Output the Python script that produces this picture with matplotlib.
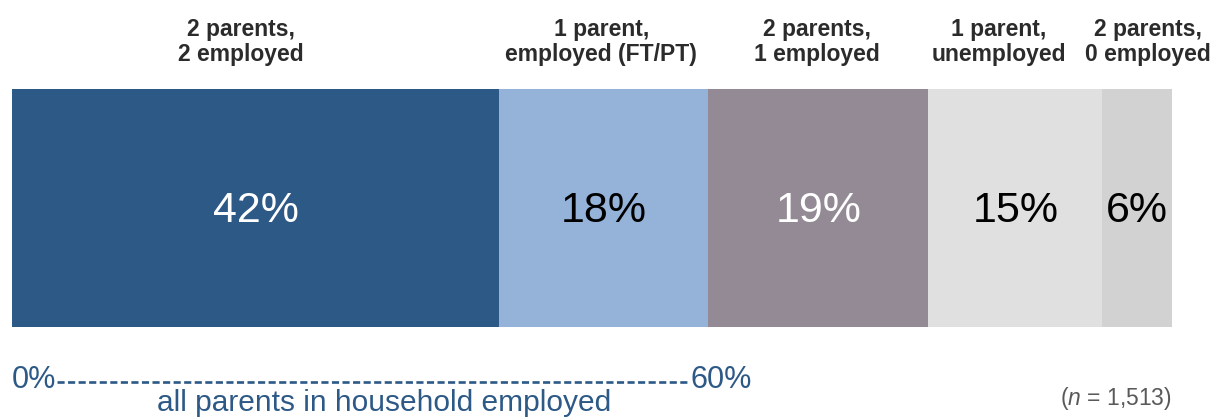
import matplotlib
matplotlib.use("Agg")
import matplotlib.pyplot as plt

plt.rcParams["mathtext.fontset"] = "custom"
plt.rcParams["mathtext.it"] = "Liberation Sans:italic"
plt.rcParams["mathtext.rm"] = "Liberation Sans"

categories = ["2 parents,\n2 employed", "1 parent,\nemployed (FT/PT)", "2 parents,\n1 employed",
              "1 parent,\nunemployed", "2 parents,\n0 employed"]
values = [42, 18, 19, 15, 6]
value_labels = ["42%", "18%", "19%", "15%", "6%"]
header_x = [19.7, 50.8, 69.4, 85.1, 97.9]
colors = ["#2D5986", "#95B3D9", "#948A96", "#E0E0E0", "#D2D2D2"]
text_colors = ["white", "black", "white", "black", "black"]
bracket = (0, 60)
bracket_labels = ["0%", "60%"]
bracket_caption = "all parents in household employed"
n_note = "1,513"

reg = ["Liberation Sans", "DejaVu Sans"]

fig = plt.figure(figsize=(12.21, 4.17), dpi=100)
ax = fig.add_axes([12/1221, (417-327)/417, 1160/1221, 238/417])
left = 0
for v, c, lab, tc in zip(values, colors, value_labels, text_colors):
    ax.barh(0, v, left=left, color=c, height=1.0, edgecolor="none")
    ax.text(left + v/2, -0.013, lab, ha="center", va="center", color=tc,
            fontsize=31, family=reg)
    left += v
ax.set_xlim(0, 100)
ax.set_ylim(-0.5, 0.5)
ax.axis("off")

# headers
for hx, cat in zip(header_x, categories):
    ax.text(hx, 0.5 + 47/238, cat, ha="center", va="center", fontsize=16.5,
            fontweight="bold", color="#2B2B2B", family=reg, linespacing=1.12)

# bracket annotation below
ycap = -0.5 - (380-327)/238
blue = "#2D5986"
ax.text(bracket[0], ycap, bracket_labels[0], ha="left", va="center",
        fontsize=22, color=blue, family=reg)
ax.text(bracket[1] - 1.5, ycap, bracket_labels[1], ha="left", va="center",
        fontsize=22, color=blue, family=reg)
ydash = -0.5 - (382-327)/238
ax.plot([3.9, bracket[1] - 1.6], [ydash, ydash], color=blue, lw=1.9,
        linestyle=(0, (2.7, 1.3)), clip_on=False, dash_capstyle="butt")
ax.text(32.1, -0.5 - (403-327)/238, bracket_caption,
        ha="center", va="center", fontsize=21.5, color=blue, family=reg)

ax.text(100, -0.5 - (399-327)/238, r"($\it{n}$ = " + n_note + ")", ha="right",
        va="center", fontsize=16.5, color="#595959", family=reg)

fig.savefig("out.png", dpi=100)
